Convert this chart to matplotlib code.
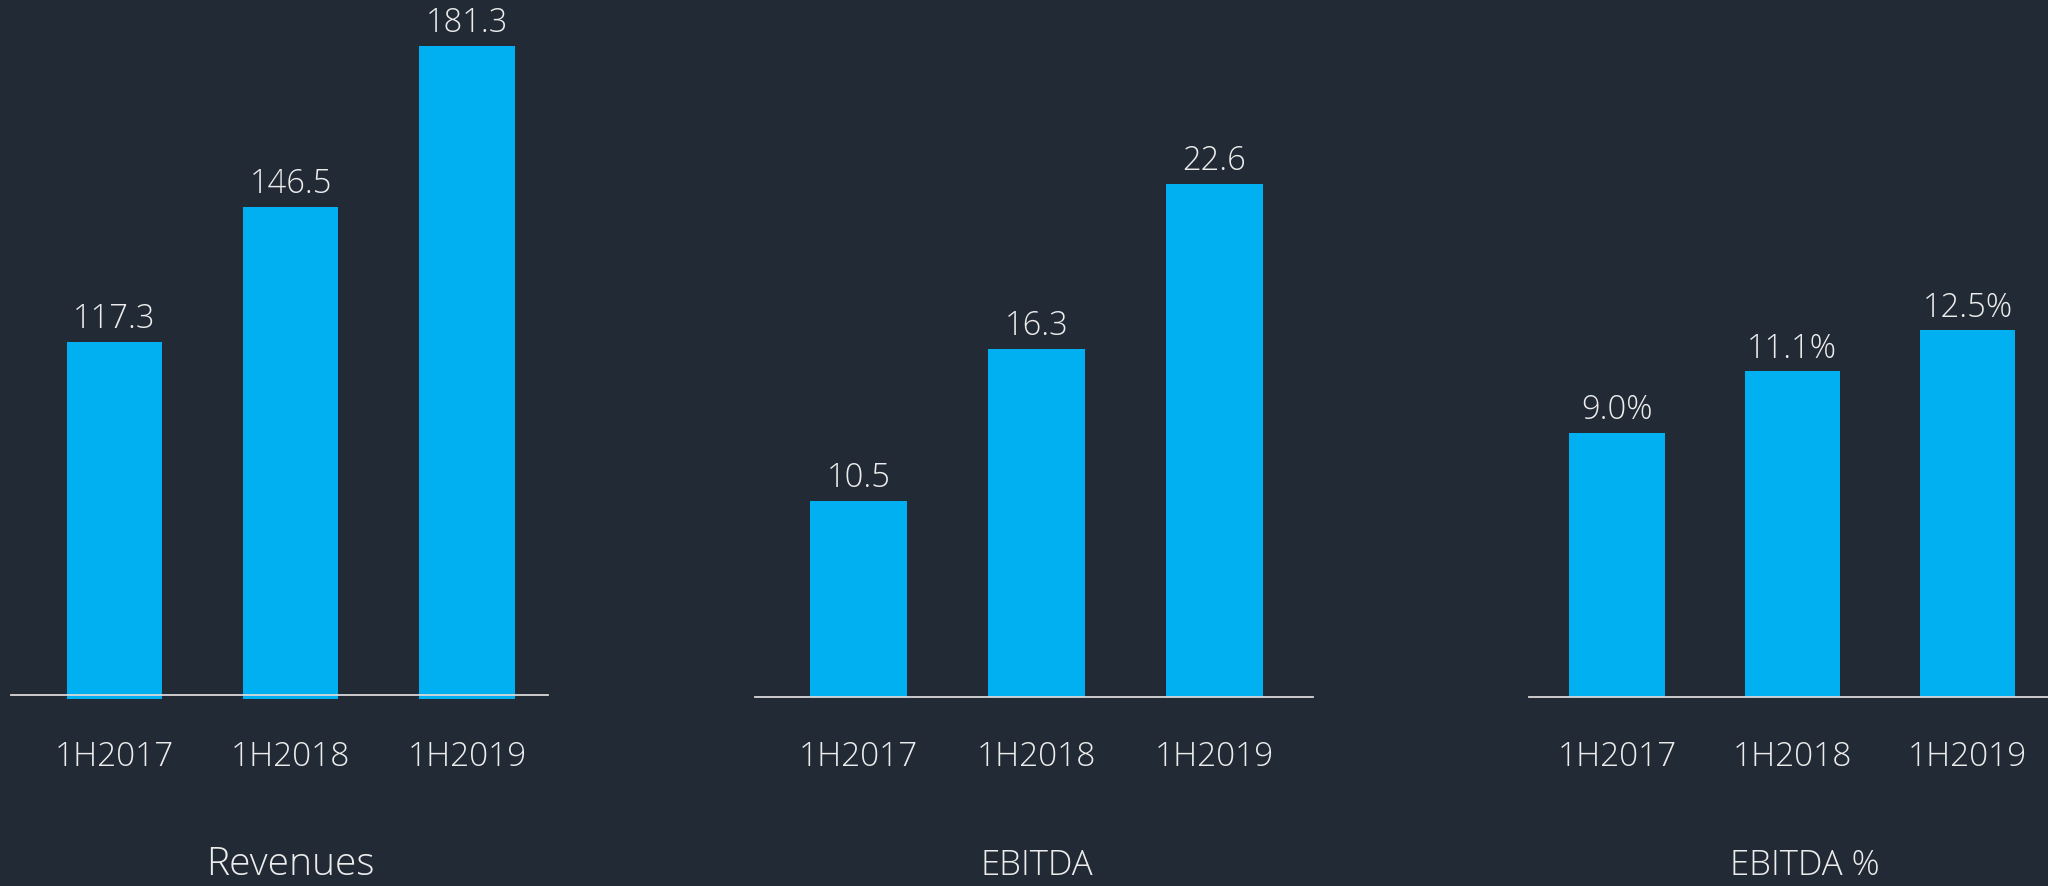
import matplotlib
matplotlib.use('Agg')
import matplotlib.pyplot as plt

# data
periods = ['1H2017', '1H2018', '1H2019']
revenues = [117.3, 146.5, 181.3]
ebitda = [10.5, 16.3, 22.6]
ebitda_pct = [9.0, 11.1, 12.5]
titles = ['Revenues', 'EBITDA', 'EBITDA %']

bg = '#222a35'
bar_color = '#00b0f0'
text_color = '#ececec'
line_color = '#d9d9d9'

plt.rcParams['font.family'] = ['Open Sans', 'DejaVu Sans']
plt.rcParams['font.weight'] = 'light'

W, H = 2048, 886
fig = plt.figure(figsize=(W / 100, H / 100), dpi=100, facecolor=bg)

# panel layout in pixels: left, right, bottom, ylim, baseline, xlim, bar width
panels = [
    (10.7, 547.5, 699.4, (40, 191.2), 41.0, (-0.589, 2.457), 0.54),
    (755, 1312.5, 696.5, (3.03, 29.63), 3.03, (-0.581, 2.551), 0.545),
    (1529, 2048, 696.7, (0, 23.78), 0.0, (-0.502, 2.459), 0.545),
]
series = [revenues, ebitda, ebitda_pct]
fmts = ['{:.1f}', '{:.1f}', '{:.1f}%']
title_sizes = [28, 25, 25]
title_shift = [0, 0, 9]  # points

x = list(range(len(periods)))
for (l, r, b, ylim, base, xlim, bw), vals, fmt, title, tsize, tdx in zip(
        panels, series, fmts, titles, title_sizes, title_shift):
    ax = fig.add_axes([l / W, 1 - b / H, (r - l) / W, b / H])
    ax.set_facecolor(bg)
    ax.bar(x, vals, bw, color=bar_color, zorder=2)
    ax.axhline(base, color=line_color, lw=1.3, zorder=3, clip_on=False)
    ax.set_xlim(*xlim)
    ax.set_ylim(*ylim)
    ax.axis('off')
    for i, v in zip(x, vals):
        ax.annotate(fmt.format(v), xy=(i, v), xytext=(0, 10), textcoords='offset points',
                    ha='center', va='baseline', fontsize=23.5, color=text_color,
                    annotation_clip=False)
        ax.annotate(periods[i], xy=(i, 1 - 766 / H), xycoords=('data', 'figure fraction'),
                    ha='center', va='baseline', fontsize=24, color=text_color,
                    annotation_clip=False)
    ax.annotate(title, xy=(1, 1 - 875 / H), xycoords=('data', 'figure fraction'),
                xytext=(tdx, 0), textcoords='offset points',
                ha='center', va='baseline', fontsize=tsize, color=text_color,
                annotation_clip=False)

fig.savefig('out.png', dpi=100, facecolor=bg)
